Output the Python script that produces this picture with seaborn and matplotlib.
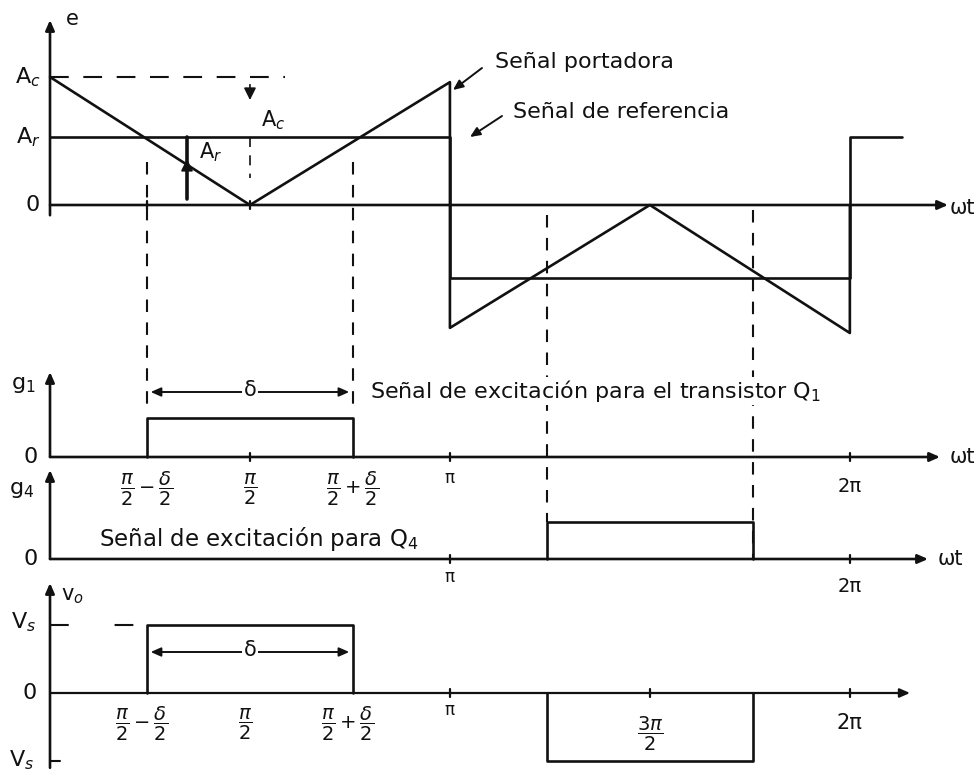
import numpy as np
import matplotlib
matplotlib.use("Agg")
import matplotlib.pyplot as plt
import seaborn as sns

PI = np.pi

# ---------------- signal data (angles in rad, amplitudes normalised) ----------------
A_c = 1.0            # carrier peak amplitude
A_r = 0.53           # reference level, first half-cycle
A_r_neg = -0.57      # reference level, second half-cycle
delta = 1.62         # gate pulse width δ (rad)
V_s = 1.0            # supply voltage level

carrier_wt = [0.0, PI / 2, PI, PI, 3 * PI / 2, 2 * PI, 2 * PI]
carrier_e = [1.0, 0.0, 0.96, -0.96, 0.0, -1.0, 0.0]

ref_wt = [0.0, PI, PI, 2 * PI, 2 * PI, 2 * PI + 0.41]
ref_e = [A_r, A_r, A_r_neg, A_r_neg, A_r, A_r]

g1_centre = PI / 2
g4_centre = 3 * PI / 2
g1_edges = [g1_centre - delta / 2, g1_centre + delta / 2]
g4_edges = [g4_centre - delta / 2, g4_centre + delta / 2]

tick_frac_labels = [r"$\dfrac{\pi}{2}-\dfrac{\delta}{2}$", r"$\dfrac{\pi}{2}$",
                    r"$\dfrac{\pi}{2}+\dfrac{\delta}{2}$"]
tick_frac_pos = [g1_edges[0], g1_centre, g1_edges[1]]

# ---------------- layout ----------------
W, H = 978, 771
X0 = 50.0            # pixel column of ωt = 0
PX_PER_RAD = 127.3
PANELS = {"e": (205, 128), "g1": (457, 39), "g4": (559, 37), "vo": (693, 68)}
LW = 1.9
INK = "#111111"


def py(panel, v):
    base, s = PANELS[panel]
    return base - s * np.asarray(v, dtype=float)


def xpx(p):
    return (p - X0) / PX_PER_RAD


sns.set_theme(style="white")
plt.rcParams["font.family"] = ["DejaVu Sans"]
plt.rcParams["mathtext.fontset"] = "dejavusans"

fig = plt.figure(figsize=(W / 100, H / 100), dpi=100)
ax = fig.add_axes([0, 0, 1, 1])


def trace(wt, vals, panel, lw=LW):
    sns.lineplot(x=np.asarray(wt, dtype=float), y=py(panel, vals), estimator=None,
                 sort=False, color=INK, linewidth=lw, ax=ax, legend=False)


def arrow(tail, tip, lw=LW, head=0.5, width=0.22):
    ax.annotate("", xy=tip, xytext=tail,
                arrowprops=dict(arrowstyle=f"-|>,head_length={head},head_width={width}",
                                color=INK, lw=lw, shrinkA=0, shrinkB=0))


def dashed(x, y0, y1, lw=1.5):
    ax.plot([x, x], [y0, y1], color=INK, lw=lw, ls=(0, (6, 5)))


def label(x, y, s, size=15, **kw):
    kw.setdefault("ha", "center")
    kw.setdefault("va", "center")
    ax.text(x, y, s, fontsize=size, color=INK, **kw)


WHITE_BOX = dict(fc="white", ec="none", pad=1)

# ---------------- panel 1: carrier and reference ----------------
arrow((0, py("e", -0.08)), (0, 20))
arrow((0, py("e", 0)), (xpx(948), py("e", 0)))
trace(carrier_wt, carrier_e, "e")
trace(ref_wt, ref_e, "e")
ax.plot([0, xpx(285)], [py("e", A_c)] * 2, color=INK, lw=1.5, ls=(0, (9, 7)))

label(xpx(72), 19, "e", size=15)
label(xpx(28), py("e", A_c), r"A$_c$", size=16)
label(xpx(28), py("e", A_r), r"A$_r$", size=16)
label(xpx(33), py("e", 0), "0", size=16)
label(xpx(962), py("e", 0) + 3, "ωt", size=15)

# amplitude markers
arrow((g1_centre, py("e", 0.94)), (g1_centre, py("e", 0.82)), lw=1.2, head=0.6, width=0.3)
label(xpx(273), 120, r"A$_c$", size=15)
x_ar = xpx(187)
ax.plot([x_ar, x_ar], [py("e", 0.05), py("e", A_r)], color=INK, lw=2.6)
arrow((x_ar, py("e", 0.2)), (x_ar, py("e", 0.36)), lw=1.2, head=0.6, width=0.3)
label(xpx(211), 152, r"A$_r$", size=15)
dashed(g1_centre, py("e", A_r), py("e", 0.21), lw=1.2)

# call-outs
arrow((xpx(482), 68), (xpx(453), 90), lw=1.4)
label(xpx(495), 62, "Señal portadora", size=16, ha="left")
arrow((xpx(502), 116), (xpx(470), 137), lw=1.4)
label(xpx(513), 112, "Señal de referencia", size=16, ha="left")

# ---------------- switching instants (dashed guides) ----------------
for x in g1_edges:
    dashed(x, 162, py("g1", 1.0) - 10)
dashed(g4_edges[0], 215, py("g4", 1.0))
dashed(g4_edges[1], 210, py("g4", 0))

# ---------------- panel 2: gate signal g1 ----------------
arrow((0, py("g1", 0)), (0, 372))
arrow((0, py("g1", 0)), (xpx(940), py("g1", 0)))
trace([g1_edges[0], g1_edges[0], g1_edges[1], g1_edges[1]], [0, 1, 1, 0], "g1")
label(xpx(23), 385, r"g$_1$", size=16)
label(xpx(31), py("g1", 0), "0", size=16)
label(xpx(962), py("g1", 0), "ωt", size=15)
arrow((g1_centre, 392), (g1_edges[0] + 0.03, 392), lw=1.4)
arrow((g1_centre, 392), (g1_edges[1] - 0.03, 392), lw=1.4)
label(g1_centre, 390, "δ", size=15, bbox=WHITE_BOX)
label(xpx(370), 391, "Señal de excitación para el transistor Q$_1$", size=16,
      ha="left", bbox=WHITE_BOX)
for x, s in zip(tick_frac_pos, tick_frac_labels):
    label(x, 489, s, size=14)
label(PI, 478, "π", size=12)
label(2 * PI, 486, "2π", size=14)

# ---------------- panel 3: gate signal g4 ----------------
arrow((0, py("g4", 0)), (0, 470))
arrow((0, py("g4", 0)), (xpx(928), py("g4", 0)))
trace([g4_edges[0], g4_edges[0], g4_edges[1], g4_edges[1]], [0, 1, 1, 0], "g4")
label(xpx(22), 490, r"g$_4$", size=16)
label(xpx(31), py("g4", 0), "0", size=16)
label(xpx(950), py("g4", 0), "ωt", size=15)
label(xpx(259), 539, "Señal de excitación para Q$_4$", size=16.5)
label(PI, 577, "π", size=12)
label(2 * PI, 587, "2π", size=14)

# ---------------- panel 4: output voltage vo ----------------
arrow((0, py("vo", -1.1)), (0, 583))
arrow((0, py("vo", 0)), (xpx(910), py("vo", 0)), lw=1.6)
trace([g1_edges[0], g1_edges[0], g1_edges[1], g1_edges[1]], [0, V_s, V_s, 0], "vo")
trace([g4_edges[0], g4_edges[0], g4_edges[1], g4_edges[1]], [0, -V_s, -V_s, 0], "vo")
ax.plot([0, g1_edges[0]], [py("vo", V_s)] * 2, color=INK, lw=1.5, ls=(0, (9, 22)))
ax.plot([0, xpx(60)], [py("vo", -V_s)] * 2, color=INK, lw=1.5)
label(xpx(72), 596, r"v$_o$", size=15)
label(xpx(24), 622, r"V$_s$", size=16)
label(xpx(22), 760, r"V$_s$", size=16)
label(xpx(30), py("vo", 0), "0", size=16)
arrow((g1_centre, 652), (g1_edges[0] + 0.03, 652), lw=1.4)
arrow((g1_centre, 652), (g1_edges[1] - 0.03, 652), lw=1.4)
label(g1_centre, 650, "δ", size=15, bbox=WHITE_BOX)
for x, s in zip(tick_frac_pos, tick_frac_labels):
    label(x - 0.04, 724, s, size=14)
label(PI, 710, "π", size=12)
label(g4_centre, 734, r"$\dfrac{3\pi}{2}$", size=14)
label(2 * PI, 723, "2π", size=15)

# small axis ticks
for panel, xs in [("e", [g1_edges[0], g1_centre]),
                  ("g1", [g1_centre, PI, 2 * PI]),
                  ("g4", [PI, 2 * PI]),
                  ("vo", [PI, g4_centre, 2 * PI])]:
    for x in xs:
        ax.plot([x, x], [py(panel, 0) - 4, py(panel, 0) + 4], color=INK, lw=1.6)

ax.set_xlim(xpx(0), xpx(W))
ax.set_ylim(H, 0)
ax.set_axis_off()
fig.savefig("out.png", dpi=100, facecolor="white")
